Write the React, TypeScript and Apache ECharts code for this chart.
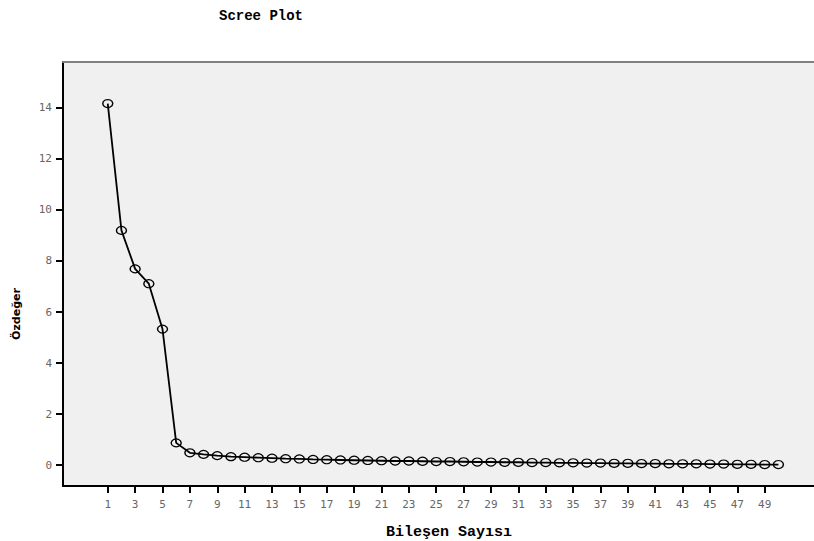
import React, { useEffect, useRef } from "react";
import * as echarts from "echarts";

const components = Array.from({ length: 50 }, (_, i) => i + 1);
const eigenvalues = [
  14.17, 9.2, 7.69, 7.11, 5.33, 0.87, 0.48, 0.42, 0.37, 0.33,
  0.31, 0.29, 0.27, 0.25, 0.24, 0.22, 0.21, 0.2, 0.19, 0.18,
  0.17, 0.16, 0.16, 0.15, 0.14, 0.14, 0.13, 0.12, 0.12, 0.11,
  0.11, 0.1, 0.1, 0.09, 0.09, 0.08, 0.08, 0.07, 0.07, 0.06,
  0.06, 0.05, 0.05, 0.05, 0.04, 0.04, 0.03, 0.03, 0.02, 0.02,
];
const xTicks = [1, 3, 5, 7, 9, 11, 13, 15, 17, 19, 21, 23, 25, 27, 29, 31, 33, 35, 37, 39, 41, 43, 45, 47, 49];
const yTicks = [0, 2, 4, 6, 8, 10, 12, 14];
const title = "Scree Plot";
const xName = "Bileşen Sayısı";
const yName = "Özdeğer";

export default function App() {
  const ref = useRef<HTMLDivElement>(null);
  useEffect(() => {
    if (!ref.current) return;
    const chart = echarts.init(ref.current, null, { renderer: "svg" });
    const labelStyle = {
      color: "#666",
      fontFamily: "DejaVu Sans Mono",
      fontSize: 11,
    };
    chart.setOption({
      animation: false,
      backgroundColor: "#fff",
      grid: {
        left: 63,
        top: 62,
        right: 0,
        bottom: 55,
        show: true,
        backgroundColor: "#f0f0f0",
        borderWidth: 0,
      },
      graphic: [
        {
          type: "text",
          x: 261,
          y: 16,
          style: {
            text: title,
            fontFamily: "Liberation Mono",
            fontWeight: "bold",
            fontSize: 14,
            fill: "#000",
            align: "center",
            verticalAlign: "middle",
          },
        },
        {
          type: "text",
          x: 449,
          y: 532,
          style: {
            text: xName,
            fontFamily: "Liberation Mono",
            fontWeight: "bold",
            fontSize: 15,
            fill: "#000",
            align: "center",
            verticalAlign: "middle",
          },
        },
        {
          type: "text",
          x: 16,
          y: 314,
          rotation: Math.PI / 2,
          style: {
            text: yName,
            fontFamily: "DejaVu Sans",
            fontWeight: "bold",
            fontSize: 11,
            fill: "#000",
            align: "center",
            verticalAlign: "middle",
          },
        },
      ],
      xAxis: [
        {
          type: "value",
          min: -2.27,
          max: 52.6,
          splitLine: { show: false },
          axisLine: { show: true, onZero: false, lineStyle: { color: "#000", width: 2 } },
          axisTick: { show: true, customValues: xTicks, length: 7, lineStyle: { color: "#000", width: 2 } },
          axisLabel: { ...labelStyle, customValues: xTicks, margin: 13 },
        },
        {
          type: "value",
          position: "top",
          min: -2.27,
          max: 52.6,
          splitLine: { show: false },
          axisLine: { show: true, onZero: false, lineStyle: { color: "#808080", width: 2 } },
          axisTick: { show: false },
          axisLabel: { show: false },
        },
      ],
      yAxis: {
        type: "value",
        min: -0.82,
        max: 15.8,
        splitLine: { show: false },
        axisLine: { show: true, onZero: false, lineStyle: { color: "#000", width: 2 } },
        axisTick: { show: true, customValues: yTicks, length: 7, lineStyle: { color: "#000", width: 2 } },
        axisLabel: { ...labelStyle, customValues: yTicks, margin: 11 },
      },
      series: [
        {
          type: "line",
          data: components.map((c, i) => [c, eigenvalues[i]]),
          symbol: "circle",
          symbolSize: [10, 8],
          itemStyle: { color: "rgba(0,0,0,0)", borderColor: "#000", borderWidth: 1.3 },
          lineStyle: { color: "#000", width: 1.8 },
          z: 3,
        },
      ],
    });
    return () => chart.dispose();
  }, []);
  return <div ref={ref} style={{ position: "absolute", left: 0, top: 0, width: 814, height: 541 }} />;
}
